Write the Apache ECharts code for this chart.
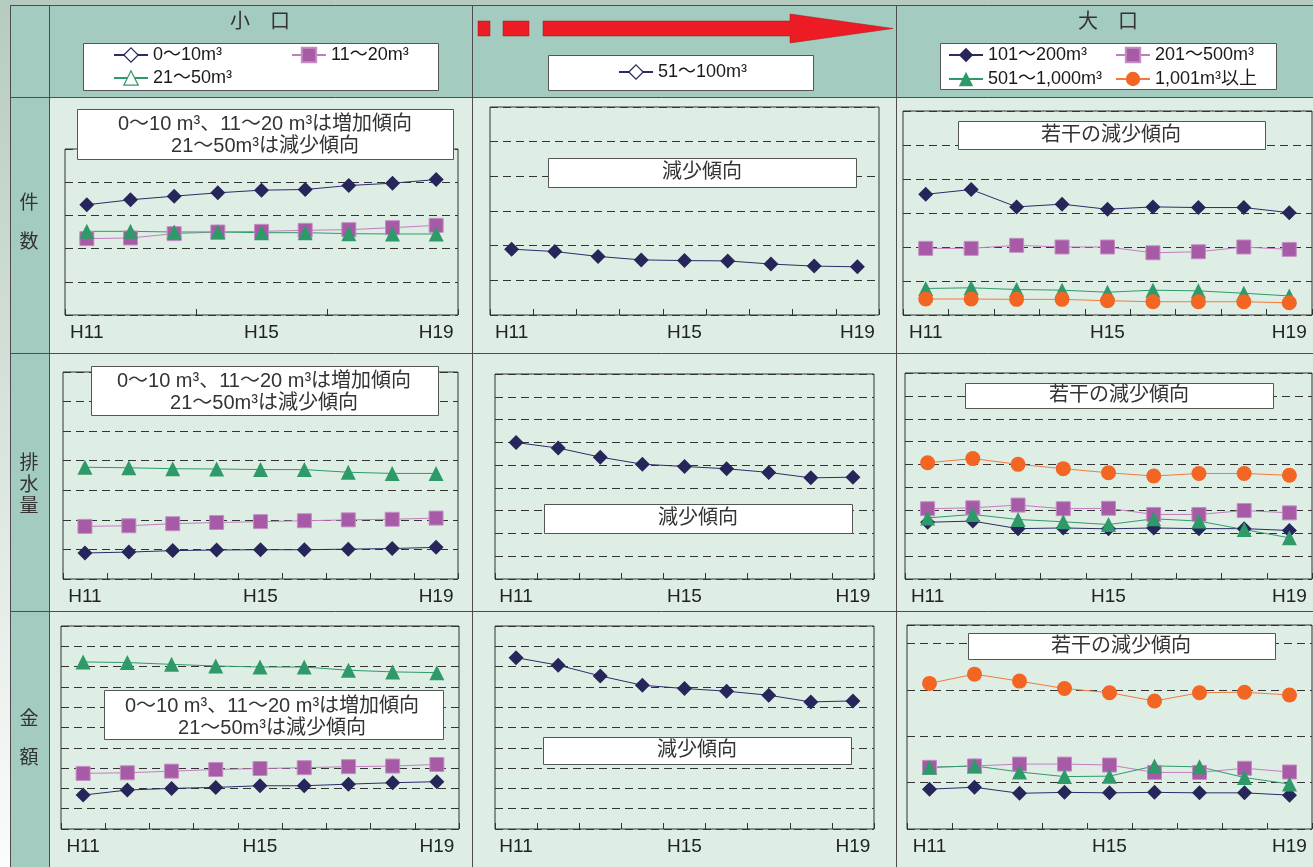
<!DOCTYPE html>
<html><head><meta charset="utf-8">
<script src="https://cdn.jsdelivr.net/npm/echarts@6/dist/echarts.min.js"></script>
<style>html,body{margin:0;padding:0;background:#fff}#c{width:1313px;height:867px}</style>
</head><body><div id="c"></div>
<script>
// ---------- data ----------
const years = ['H11','H12','H13','H14','H15','H16','H17','H18','H19'];
const sizeNames = ['0～10m³','11～20m³','21～50m³','51～100m³','101～200m³','201～500m³','501～1,000m³','1,001m³以上'];
const headerLabels = ['小　口','大　口'];
const rowLabels = [['件','数'],['排','水','量'],['金','額']];
const noteSmall = '0～10 m³、11～20 m³は増加傾向\n21～50m³は減少傾向';
const noteMid = '減少傾向';
const noteLarge = '若干の減少傾向';

// 件数 (relative units, gridline steps)
const count_0_10    = [3.32,3.47,3.58,3.68,3.76,3.78,3.90,3.97,4.08];
const count_11_20   = [2.30,2.32,2.45,2.50,2.52,2.55,2.57,2.63,2.70];
const count_21_50   = [2.52,2.52,2.50,2.50,2.48,2.48,2.45,2.44,2.44];
const count_51_100  = [1.90,1.83,1.69,1.59,1.57,1.56,1.47,1.41,1.39];
const count_101_200 = [3.55,3.69,3.18,3.26,3.11,3.18,3.16,3.16,3.01];
const count_201_500 = [1.96,1.96,2.05,2.00,2.00,1.83,1.86,2.00,1.93];
const count_501_1000= [0.78,0.80,0.75,0.73,0.67,0.73,0.71,0.64,0.56];
const count_1001    = [0.47,0.47,0.46,0.46,0.42,0.39,0.39,0.39,0.36];
// 排水量
const vol_0_10    = [0.88,0.91,0.96,0.98,0.99,0.99,1.01,1.03,1.07];
const vol_11_20   = [1.78,1.80,1.87,1.91,1.94,1.97,2.00,2.02,2.06];
const vol_21_50   = [3.78,3.76,3.73,3.72,3.70,3.70,3.61,3.57,3.57];
const vol_51_100  = [5.99,5.75,5.35,5.04,4.94,4.84,4.68,4.44,4.47];
const vol_101_200 = [2.48,2.53,2.20,2.23,2.19,2.23,2.20,2.20,2.12];
const vol_201_500 = [3.07,3.11,3.23,3.07,3.09,2.82,2.82,2.99,2.89];
const vol_501_1000= [2.67,2.82,2.60,2.50,2.38,2.63,2.53,2.16,1.80];
const vol_1001    = [5.08,5.26,5.01,4.82,4.64,4.50,4.61,4.61,4.53];
// 金額
const amt_0_10    = [1.67,1.92,2.00,2.05,2.13,2.13,2.21,2.28,2.33];
const amt_11_20   = [2.74,2.77,2.85,2.93,2.98,3.02,3.07,3.10,3.18];
const amt_21_50   = [8.23,8.20,8.11,8.03,7.98,7.98,7.82,7.74,7.70];
const amt_51_100  = [8.44,8.07,7.54,7.08,6.92,6.79,6.59,6.26,6.31];
const amt_101_200 = [0.86,0.90,0.77,0.79,0.78,0.79,0.78,0.78,0.73];
const amt_201_500 = [1.33,1.36,1.40,1.40,1.38,1.22,1.22,1.31,1.23];
const amt_501_1000= [1.33,1.36,1.23,1.13,1.14,1.36,1.34,1.11,0.97];
const amt_1001    = [3.14,3.34,3.19,3.03,2.94,2.76,2.94,2.95,2.89];

// ---------- styles / layout ----------
const FONT = '"Liberation Sans", Arial, "Noto Sans CJK JP", sans-serif';
const NAVY = '#26265a', PURPLE = '#a75aa5', GREEN = '#2f9a69', ORANGE = '#f26522';
const styles = [
  {symbol:'diamond', color:NAVY, line:'#2c2c68', size:15},
  {symbol:'rect', color:PURPLE, line:'#c37cc1', size:14},
  {symbol:'triangle', color:GREEN, line:GREEN, size:15},
  {symbol:'diamond', color:NAVY, line:'#2c2c68', size:15},
  {symbol:'diamond', color:NAVY, line:'#2c2c68', size:15},
  {symbol:'rect', color:PURPLE, line:'#c37cc1', size:14},
  {symbol:'triangle', color:GREEN, line:GREEN, size:15},
  {symbol:'circle', color:ORANGE, line:'#f47a3a', size:15}
];
const panels = [
  {g:[65,149,393,166],  max:5,  tick:2, s:[[0,count_0_10],[1,count_11_20],[2,count_21_50]]},
  {g:[490,107,389,208], max:6,  tick:0, s:[[3,count_51_100]]},
  {g:[903,111,409,204], max:6,  tick:0, s:[[4,count_101_200],[5,count_201_500],[6,count_501_1000],[7,count_1001]]},
  {g:[63,372,395,207],  max:7,  tick:0, s:[[0,vol_0_10],[1,vol_11_20],[2,vol_21_50]]},
  {g:[495,374,379,205], max:9,  tick:0, s:[[3,vol_51_100]]},
  {g:[905,373,407,206], max:9,  tick:0, s:[[4,vol_101_200],[5,vol_201_500],[6,vol_501_1000],[7,vol_1001]]},
  {g:[61,626,398,203],  max:10, tick:0, s:[[0,amt_0_10],[1,amt_11_20],[2,amt_21_50]]},
  {g:[495,626,379,203], max:10, tick:0, s:[[3,amt_51_100]]},
  {g:[907,625,405,204], max:4.4,tick:0, s:[[4,amt_101_200],[5,amt_201_500],[6,amt_501_1000],[7,amt_1001]]}
];

const grid = [], xAxis = [], yAxis = [], series = [];
panels.forEach((p, i) => {
  grid.push({left:p.g[0], top:p.g[1], width:p.g[2], height:p.g[3], show:true,
    backgroundColor:'#deeee5', borderColor:'#333', borderWidth:1, outerBoundsMode:'none', containLabel:false});
  xAxis.push({type:'category', gridIndex:i, data:years, boundaryGap:true,
    axisLine:{show:false},
    axisTick:{show:true, inside:true, length:6, interval:p.tick, lineStyle:{color:'#333'}},
    axisLabel:{interval:(idx)=>idx%4===0, margin:8, fontSize:19, color:'#222', fontFamily:FONT},
    splitLine:{show:false}});
  yAxis.push({type:'value', gridIndex:i, min:0, max:p.max, interval:1,
    axisLine:{show:false}, axisTick:{show:false}, axisLabel:{show:false},
    splitLine:{show:true, lineStyle:{color:'#333', type:[8,5], width:1}}});
  p.s.forEach(([k, arr]) => {
    const st = styles[k];
    series.push({type:'line', name:sizeNames[k], xAxisIndex:i, yAxisIndex:i, data:arr,
      symbol:st.symbol, symbolSize:st.size, showAllSymbol:true,
      itemStyle:{color:st.color, borderColor: k===1||k===5 ? '#c48ec2' : st.color, borderWidth: k===1||k===5 ? 1 : 0},
      lineStyle:{color:st.line, width:1}, emphasis:{disabled:true}, silent:true});
  });
});

// legends: one component per item for exact placement
const legendPos = [
  [0,113,55,true],[1,291,55,false],[2,113,78,true],
  [3,618,72,true],
  [4,948,55,false],[5,1115,55,false],[6,948,79,false],[7,1115,79,false]
];
const legend = legendPos.map(([k,x,y,hollow]) => {
  const st = styles[k];
  const item = {name:sizeNames[k]};
  if (hollow) item.itemStyle = {color:'#ffffff', borderColor:st.color, borderWidth:1.2};
  return {show:true, left:x, top:y-9, padding:0, itemWidth:34, itemHeight:18, selectedMode:false,
    data:[item], textStyle:{fontSize:18, color:'#1a1a1a', fontFamily:FONT}};
});

// ---------- graphic (table frame, arrow, notes) ----------
const G = [];
G.push({type:'rect', z:-100, shape:{x:0,y:0,width:1313,height:867},
  style:{fill:new echarts.graphic.LinearGradient(0,0,0,1,[{offset:0,color:'#b6cbbf'},{offset:1,color:'#fbfcfb'}])}});
G.push({type:'rect', z:-95, shape:{x:10,y:5,width:1303,height:92}, style:{fill:'#a3cbc0'}});
G.push({type:'rect', z:-95, shape:{x:10,y:97,width:39,height:770}, style:{fill:'#a3cbc0'}});
G.push({type:'rect', z:-95, shape:{x:49,y:97,width:1264,height:770}, style:{fill:'#deeee5'}});
[[10,5.5,1313,5.5],[10,97.5,1313,97.5],[10,353.5,1313,353.5],[10,611.5,1313,611.5],
 [10.5,5,10.5,867],[49.5,5,49.5,867],[472.5,5,472.5,867],[896.5,5,896.5,867]].forEach(l => {
  G.push({type:'line', z:-90, shape:{x1:l[0],y1:l[1],x2:l[2],y2:l[3]}, style:{stroke:'#4d4d4d', lineWidth:1}});
});
// header titles
G.push({type:'text', z:-80, x:260, y:22, style:{text:headerLabels[0], fontSize:20, fontFamily:FONT, fill:'#333', textAlign:'center', textVerticalAlign:'middle'}});
G.push({type:'text', z:-80, x:1108, y:22, style:{text:headerLabels[1], fontSize:20, fontFamily:FONT, fill:'#333', textAlign:'center', textVerticalAlign:'middle'}});
// row labels
const rowY = [[204,243],[464,486,507],[720,759]];
rowLabels.forEach((chars, r) => chars.forEach((ch, j) => {
  G.push({type:'text', z:-80, x:29, y:rowY[r][j], style:{text:ch, fontSize:19, fontFamily:FONT, fill:'#333', textAlign:'center', textVerticalAlign:'middle'}});
}));
// red arrow
const RED = '#ed1c24';
G.push({type:'rect', z:-80, shape:{x:478,y:21,width:12,height:15}, style:{fill:RED, stroke:'#9a1a1a', lineWidth:0.5}});
G.push({type:'rect', z:-80, shape:{x:503,y:21,width:26,height:15}, style:{fill:RED, stroke:'#9a1a1a', lineWidth:0.5}});
G.push({type:'polygon', z:-80, shape:{points:[[543,21],[790,21],[790,14],[893,28.5],[790,43],[790,36],[543,36]]}, style:{fill:RED, stroke:'#9a1a1a', lineWidth:0.5}});
// legend boxes
[[83,43,355,47],[548,55,265,35],[940,43,336,46]].forEach(b => {
  G.push({type:'rect', z:1, shape:{x:b[0]+0.5,y:b[1]+0.5,width:b[2],height:b[3]}, style:{fill:'#fff', stroke:'#555', lineWidth:1}});
});
// notes
const notes = [
  [77,109,376,50,noteSmall,265,135],
  [548,158,308,29,noteMid,702,172.5],
  [958,121,307,28,noteLarge,1111,135],
  [91,366,347,49,noteSmall,264,392],
  [544,504,308,29,noteMid,698,518.5],
  [965,383,308,25,noteLarge,1119,395],
  [104,690,339,49,noteSmall,272,717],
  [543,737,308,27,noteMid,697,750.5],
  [968,633,307,26,noteLarge,1121,646]
];
notes.forEach(n => {
  G.push({type:'rect', z:50, shape:{x:n[0]+0.5,y:n[1]+0.5,width:n[2],height:n[3]}, style:{fill:'#fff', stroke:'#555', lineWidth:1}});
  G.push({type:'text', z:51, x:n[5], y:n[6], style:{text:n[4], fontSize:20, lineHeight:22, fontFamily:FONT, fill:'#333', textAlign:'center', textVerticalAlign:'middle'}});
});

const chart = echarts.init(document.getElementById('c'), null, {renderer:'canvas'});
chart.setOption({animation:false, grid, xAxis, yAxis, series, legend, graphic:{elements:G}});
</script></body></html>
